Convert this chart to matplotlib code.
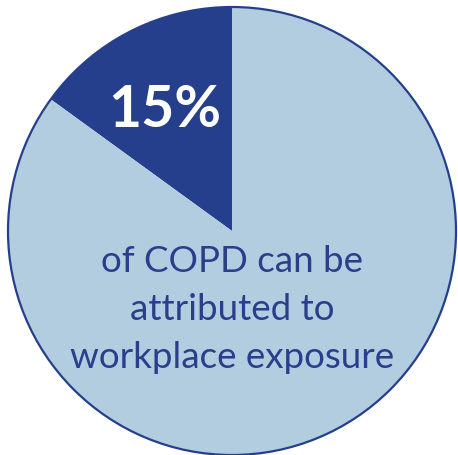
import matplotlib
matplotlib.use("Agg")
import matplotlib.pyplot as plt
from matplotlib.patches import Circle

# data
shares = [15, 85]
slice_colors = ["#253f8c", "#b3cde0"]
big_label = "15%"
caption_lines = ["of COPD can be", "attributed to", "workplace exposure"]

dark = "#253f8c"
text_col = "#2a3e8c"

fig = plt.figure(figsize=(4.58, 4.56), dpi=100)
ax = fig.add_axes([0, 0, 1, 1])

# pie, 15% wedge starts at 12 o'clock and runs counter-clockwise
ax.pie(shares, colors=slice_colors, startangle=90, counterclock=True,
       radius=1, center=(0, 0), wedgeprops=dict(linewidth=0))
ax.add_patch(Circle((0, 0), 1, fill=False, edgecolor=dark, linewidth=1.6))

ax.text(-0.30, 0.469, big_label, color="white", fontsize=41, fontweight="bold",
        family="Lato", ha="center", va="baseline")

for i, line in enumerate(caption_lines):
    ax.text(0.0, -0.179 - 0.214 * i, line, color=text_col, fontsize=26.5,
            family="Lato", ha="center", va="baseline")

ax.set_xlim(-232 / 224, 226 / 224)
ax.set_ylim(-224 / 224, 232 / 224)
ax.set_aspect("equal")
ax.axis("off")

fig.savefig("out.png", dpi=100)
